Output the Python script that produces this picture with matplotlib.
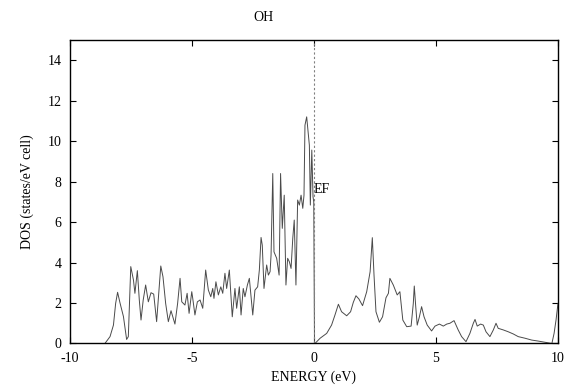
import matplotlib
matplotlib.use('Agg')
import matplotlib.pyplot as plt

plt.rcParams['font.family'] = ['Liberation Serif', 'DejaVu Serif']
plt.rcParams['axes.unicode_minus'] = False

# density of states
energy = [-8.57, -8.36, -8.22, -8.13, -8.05, -7.95, -7.81, -7.68, -7.61, -7.51,
          -7.40, -7.34, -7.24, -7.16, -7.09, -7.00, -6.90, -6.79, -6.68, -6.57,
          -6.45, -6.28, -6.19, -6.08, -5.97, -5.86, -5.70, -5.59, -5.49, -5.42,
          -5.29, -5.20, -5.12, -5.01, -4.97, -4.88, -4.78, -4.67, -4.56, -4.44,
          -4.33, -4.23, -4.15, -4.10, -4.02, -3.92, -3.82, -3.74, -3.65, -3.58,
          -3.47, -3.35, -3.24, -3.17, -3.06, -2.99, -2.90, -2.83, -2.73, -2.65,
          -2.51, -2.42, -2.31, -2.24, -2.17, -2.12, -2.05, -1.94, -1.87, -1.80,
          -1.76, -1.69, -1.64, -1.53, -1.43, -1.37, -1.30, -1.22, -1.15, -1.08,
          -1.01, -0.94, -0.87, -0.81, -0.74, -0.67, -0.60, -0.53, -0.46, -0.41,
          -0.37, -0.30, -0.23, -0.19, -0.15, -0.09, -0.04, -0.01, 0.02, 0.04,
          0.25, 0.52, 0.72, 0.86, 1.00, 1.13, 1.34, 1.50, 1.61, 1.72,
          1.84, 1.99, 2.16, 2.30, 2.39, 2.46, 2.54, 2.68, 2.81, 2.95,
          3.05, 3.11, 3.25, 3.41, 3.52, 3.64, 3.80, 3.98, 4.07, 4.11,
          4.17, 4.23, 4.32, 4.41, 4.51, 4.64, 4.82, 4.96, 5.14, 5.30,
          5.44, 5.57, 5.74, 5.91, 6.05, 6.23, 6.39, 6.53, 6.60, 6.69,
          6.83, 6.94, 7.05, 7.21, 7.35, 7.46, 7.55, 7.76, 7.96, 8.17,
          8.37, 8.65, 8.92, 9.19, 9.47, 9.75, 9.84, 9.92, 10.0]
dos = [0.0, 0.34, 0.91, 1.98, 2.53, 2.0, 1.33, 0.2, 0.34, 3.8,
       3.14, 2.48, 3.6, 2.15, 1.16, 2.15, 2.89, 2.06, 2.51, 2.44,
       1.08, 3.83, 3.3, 1.98, 1.08, 1.62, 0.96, 1.98, 3.22, 2.06,
       1.90, 2.48, 1.49, 2.56, 2.23, 1.41, 2.06, 2.15, 1.74, 3.63,
       2.64, 2.31, 2.72, 2.23, 3.05, 2.40, 2.80, 2.48, 3.47, 2.72,
       3.63, 1.32, 2.72, 1.74, 2.80, 1.41, 2.72, 2.31, 2.89, 3.22,
       1.41, 2.64, 2.80, 3.63, 5.24, 4.86, 2.72, 3.88, 3.38, 3.55,
       4.37, 8.40, 4.53, 4.21, 3.38, 8.40, 5.69, 7.33, 2.89, 4.21,
       4.04, 3.71, 5.20, 6.10, 2.89, 7.09, 6.84, 7.33, 6.68, 7.33,
       10.79, 11.2, 10.3, 9.8, 6.84, 9.56, 7.25, 7.0, 0.0, 0.0,
       0.26, 0.5, 0.91, 1.41, 1.94, 1.57, 1.37, 1.57, 2.03, 2.36,
       2.20, 1.87, 2.56, 3.55, 5.23, 3.38, 1.57, 1.05, 1.32, 2.26,
       2.48, 3.22, 2.89, 2.40, 2.56, 1.16, 0.83, 0.86, 1.98, 2.84,
       1.82, 0.91, 1.32, 1.82, 1.32, 0.91, 0.62, 0.86, 0.96, 0.86,
       0.96, 1.0, 1.13, 0.67, 0.34, 0.09, 0.50, 1.0, 1.19, 0.86,
       0.96, 0.91, 0.58, 0.34, 0.67, 1.0, 0.75, 0.67, 0.58, 0.47,
       0.34, 0.26, 0.17, 0.12, 0.06, 0.0, 0.5, 1.16, 1.98]

x_ticks = [-10, -5, 0, 5, 10]
y_ticks = [0, 2, 4, 6, 8, 10, 12, 14]

fig = plt.figure(figsize=(5.72, 3.88), dpi=100)
ax = fig.add_axes([0.1224, 0.1147, 0.8531, 0.7823])

ax.plot(energy, dos, color='#4a4a4a', lw=0.7)
ax.axvline(0, color='#808080', lw=0.8, ls=(0, (2, 2)))
ax.text(0.0, 7.6, 'EF', fontsize=10, va='center', ha='left')

ax.set_xlim(-10, 10)
ax.set_ylim(0, 15)
ax.set_xticks(x_ticks)
ax.set_yticks(y_ticks)
ax.tick_params(direction='in', top=True, right=True, length=4, width=0.8,
               labelsize=10, pad=6)
for s in ax.spines.values():
    s.set_linewidth(1.0)

ax.set_xlabel('ENERGY (eV)', fontsize=10, labelpad=4)
ax.set_ylabel('DOS (states/eV cell)', fontsize=10, labelpad=10)
fig.text(0.4615, 0.954, 'OH', fontsize=10, ha='center', va='center')

fig.savefig('out.png', dpi=100)
